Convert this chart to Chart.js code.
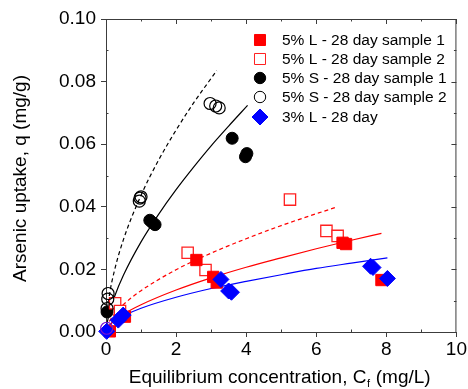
<!DOCTYPE html>
<html>
<head>
<meta charset="utf-8">
<script src="https://cdn.jsdelivr.net/npm/chart.js@4.4.1/dist/chart.umd.min.js"></script>
<style>
  html, body { margin: 0; padding: 0; background: #fff; }
  #wrap { width: 468px; height: 389px; }
</style>
</head>
<body>
<div id="wrap"><canvas id="isoChart" width="468" height="389"></canvas></div>
<script>
const l5s1X = [0.11, 0.54, 2.58, 3.06, 3.16, 6.75, 6.85, 7.86];
const l5s1Y = [0.0002, 0.0049, 0.0230, 0.0176, 0.0158, 0.0285, 0.0281, 0.0166];
const l5s2X = [0.26, 0.40, 2.33, 2.84, 5.25, 6.29, 6.61];
const l5s2Y = [0.0092, 0.0067, 0.0253, 0.0198, 0.0423, 0.0323, 0.0307];
const s5s1X = [0.03, 1.25, 1.32, 1.40, 3.60, 3.98, 4.02];
const s5s1Y = [0.0064, 0.0357, 0.0350, 0.0343, 0.0619, 0.0560, 0.0570];
const s5s2X = [0.02, 0.03, 0.05, 0.06, 0.95, 0.97, 1.00, 2.97, 3.13, 3.23];
const s5s2Y = [0.0012, 0.0075, 0.0105, 0.0123, 0.0418, 0.0428, 0.0432, 0.0730, 0.0722, 0.0716];
const l3X = [0.02, 0.35, 0.49, 3.28, 3.50, 3.58, 7.55, 7.62, 8.03];
const l3Y = [0.0002, 0.0038, 0.0054, 0.0168, 0.0131, 0.0127, 0.0210, 0.0206, 0.0171];

// fitted curves
const fitS1X = [0.02, 0.1, 0.25, 0.5, 1, 1.5, 2, 2.5, 3, 3.5, 4.04];
const fitS1Y = [0.0022, 0.0063, 0.0115, 0.0182, 0.0288, 0.0376, 0.0455, 0.0527, 0.0595, 0.0658, 0.0724];
const fitS2X = [0.02, 0.1, 0.25, 0.5, 1, 1.5, 2, 2.5, 3.16];
const fitS2Y = [0.0048, 0.0120, 0.0200, 0.0296, 0.0437, 0.0549, 0.0645, 0.0732, 0.0835];
const fitL1X = [0.02, 0.1, 0.25, 0.5, 1, 2, 3, 4, 5, 6, 7, 7.86];
const fitL1Y = [0.0008, 0.0021, 0.0037, 0.0057, 0.0087, 0.0134, 0.0173, 0.0207, 0.0237, 0.0266, 0.0293, 0.0315];
const fitL2X = [0.02, 0.1, 0.25, 0.5, 1, 2, 3, 4, 5, 6.6];
const fitL2Y = [0.0013, 0.0034, 0.0059, 0.0088, 0.0132, 0.0199, 0.0252, 0.0298, 0.0340, 0.0400];
const fitL3X = [0.02, 0.1, 0.25, 0.5, 1, 2, 3, 4, 5, 6, 7, 8.03];
const fitL3Y = [0.0009, 0.0022, 0.0036, 0.0052, 0.0076, 0.0111, 0.0139, 0.0162, 0.0183, 0.0203, 0.0220, 0.0237];

const seriesLabels = ['5% L - 28 day sample 1', '5% L - 28 day sample 2',
  '5% S - 28 day sample 1', '5% S - 28 day sample 2', '3% L - 28 day'];

const xMin = 0, xMax = 10, xStep = 2;
const yMin = 0, yMax = 0.10, yStep = 0.02;

const FONT = "'Liberation Sans', Arial, sans-serif";
const axisColor = '#3c3c3c';

function pts(xs, ys) {
  return xs.map((v, i) => ({x: v, y: ys[i]}));
}

function fitLine(xs, ys, color, dashed, order) {
  return {
    data: pts(xs, ys),
    showLine: true,
    borderColor: color,
    borderWidth: 1.2,
    borderDash: dashed ? [4, 3] : [],
    pointRadius: 0,
    cubicInterpolationMode: 'monotone',
    fill: false,
    order: order
  };
}

const datasets = [
  // scatter markers (lower order = drawn on top), not clipped at the axes
  {label: seriesLabels[0], data: pts(l5s1X, l5s1Y), pointStyle: 'rect', pointRadius: 8,
   backgroundColor: '#ff0000', borderColor: '#ff0000', borderWidth: 1, order: 2, clip: false},
  {label: seriesLabels[1], data: pts(l5s2X, l5s2Y), pointStyle: 'rect', pointRadius: 8,
   backgroundColor: '#ffffff', borderColor: '#ff2020', borderWidth: 1.3, order: 3, clip: false},
  {label: seriesLabels[2], data: pts(s5s1X, s5s1Y), pointStyle: 'circle', pointRadius: 6,
   backgroundColor: '#000000', borderColor: '#000000', borderWidth: 1, order: 5, clip: false},
  {label: seriesLabels[3], data: pts(s5s2X, s5s2Y), pointStyle: 'circle', pointRadius: 6,
   backgroundColor: 'rgba(255,255,255,0)',
   borderColor: (c) => c.dataIndex === 0 ? '#7a10d0' : '#000000', borderWidth: 1.2, order: 0, clip: false},
  {label: seriesLabels[4], data: pts(l3X, l3Y), pointStyle: 'rectRot', pointRadius: 8,
   backgroundColor: '#0000ff', borderColor: '#0000ff', borderWidth: 1, order: 1, clip: false},
  // fitted curves
  fitLine(fitS1X, fitS1Y, '#000000', false, 9),
  fitLine(fitS2X, fitS2Y, '#000000', true, 9),
  fitLine(fitL1X, fitL1Y, '#ff0000', false, 9),
  fitLine(fitL2X, fitL2Y, '#ff0000', true, 9),
  fitLine(fitL3X, fitL3Y, '#0000ff', false, 9)
];

// minor ticks, mirrored top/right axes, titles and the inset legend
const framePlugin = {
  id: 'frame',
  afterDraw(chart) {
    const {ctx, chartArea: a, scales: {x, y}} = chart;
    ctx.save();
    ctx.strokeStyle = axisColor;
    ctx.lineWidth = 1;
    ctx.beginPath();
    ctx.moveTo(a.left, a.top + 0.5); ctx.lineTo(a.right, a.top + 0.5);
    ctx.moveTo(a.right - 0.5, a.top); ctx.lineTo(a.right - 0.5, a.bottom);
    for (let v = xMin; v <= xMax; v += 1) {
      const px = Math.round(x.getPixelForValue(v)) + 0.5;
      const major = v % xStep === 0;
      const len = major ? 5 : 2.5;
      ctx.moveTo(px, a.top); ctx.lineTo(px, a.top + len);
      if (!major) { ctx.moveTo(px, a.bottom); ctx.lineTo(px, a.bottom - len); }
    }
    for (let i = 0; i <= 10; i++) {
      const v = yMin + i * 0.01;
      const py = Math.round(y.getPixelForValue(v)) + 0.5;
      const major = i % 2 === 0;
      const len = major ? 5 : 2.5;
      ctx.moveTo(a.right, py); ctx.lineTo(a.right - len, py);
      if (!major) { ctx.moveTo(a.left, py); ctx.lineTo(a.left + len, py); }
    }
    ctx.stroke();

    // axis titles
    ctx.fillStyle = '#000';
    ctx.font = '19px ' + FONT;
    ctx.textBaseline = 'alphabetic';
    ctx.save();
    ctx.translate(26, (a.top + a.bottom) / 2 + 3);
    ctx.rotate(-Math.PI / 2);
    ctx.textAlign = 'center';
    ctx.fillText('Arsenic uptake, q (mg/g)', 0, 0);
    ctx.restore();

    const t1 = 'Equilibrium concentration, C', t2 = 'f', t3 = ' (mg/L)';
    ctx.font = '19px ' + FONT;
    const w1 = ctx.measureText(t1).width, w3 = ctx.measureText(t3).width;
    ctx.font = '11px ' + FONT;
    const w2 = ctx.measureText(t2).width;
    let tx = (a.left + a.right) / 2 - 2 - (w1 + w2 + w3) / 2;
    const ty = 383;
    ctx.textAlign = 'left';
    ctx.font = '19px ' + FONT;
    ctx.fillText(t1, tx, ty);
    ctx.font = '11px ' + FONT;
    ctx.fillText(t2, tx + w1 + 0.5, ty + 4);
    ctx.font = '19px ' + FONT;
    ctx.fillText(t3, tx + w1 + w2 + 1, ty);

    // legend
    const rowY = [40, 59, 78, 97, 117];
    const mx = 260, lx = 282;
    for (let i = 0; i < 5; i++) {
      const ds = chart.data.datasets[i];
      const r = ds.pointStyle === 'circle' ? 5.7 : ds.pointStyle === 'rect' ? 7.8 : 8;
      ctx.fillStyle = ds.backgroundColor;
      ctx.strokeStyle = typeof ds.borderColor === 'function' ? '#000000' : ds.borderColor;
      Chart.helpers.drawPoint(ctx, {pointStyle: ds.pointStyle, radius: r, rotation: 0,
        borderWidth: ds.borderWidth}, mx, rowY[i]);
      ctx.fillStyle = '#000';
      ctx.font = '15.5px ' + FONT;
      ctx.textAlign = 'left';
      ctx.textBaseline = 'middle';
      ctx.fillText(seriesLabels[i], lx, rowY[i] + 1);
    }
    ctx.restore();
  }
};

const chartCtx = document.getElementById('isoChart').getContext('2d');
const isoChart = new Chart(chartCtx, {
  type: 'scatter',
  data: {datasets: datasets},
  options: {
    responsive: false,
    animation: false,
    layout: {padding: {left: 0, right: 11, top: 19, bottom: 0}},
    plugins: {legend: {display: false}, tooltip: {enabled: false}},
    scales: {
      x: {
        type: 'linear', min: xMin, max: xMax,
        afterFit: (s) => { s.height = 57; },
        ticks: {stepSize: xStep, color: '#000', padding: 1, font: {family: FONT, size: 19}},
        grid: {drawOnChartArea: false, drawTicks: true, tickLength: 5, color: axisColor},
        border: {display: true, color: axisColor, width: 1}
      },
      y: {
        type: 'linear', min: yMin, max: yMax,
        afterFit: (s) => { s.width = 106; },
        ticks: {stepSize: yStep, color: '#000', padding: 5, font: {family: FONT, size: 19},
          callback: (v) => v.toFixed(2)},
        grid: {drawOnChartArea: false, drawTicks: true, tickLength: 5, color: axisColor},
        border: {display: true, color: axisColor, width: 1}
      }
    }
  },
  plugins: [framePlugin]
});
</script>
</body>
</html>
